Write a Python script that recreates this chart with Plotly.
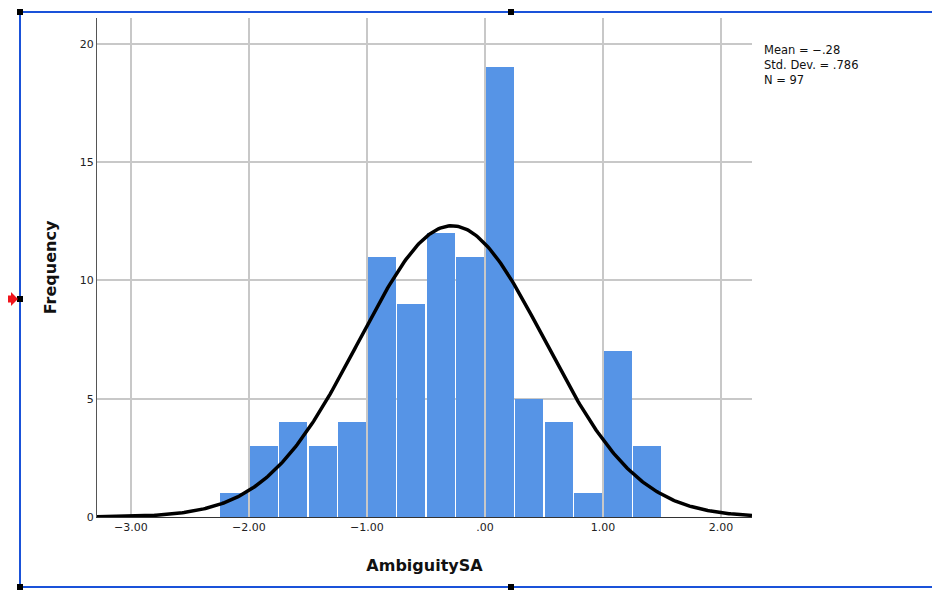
import plotly.graph_objects as go
import numpy as np

# ---- data ----
bin_starts = [-2.25, -2.0, -1.75, -1.5, -1.25, -1.0, -0.75, -0.5, -0.25, 0.0, 0.25, 0.5, 0.75, 1.0, 1.25]
counts = [1, 3, 4, 3, 4, 11, 9, 12, 11, 19, 5, 4, 1, 7, 3]
bin_width = 0.25
mean_val = -0.28
sd_val = 0.786
n_val = 97
x_ticks = [-3, -2, -1, 0, 1, 2]
x_tick_labels = ["\u22123.00", "\u22122.00", "\u22121.00", ".00", "1.00", "2.00"]
y_ticks = [0, 5, 10, 15, 20]

OFF = 8  # page body margin
W, H = 940 - OFF, 592 - OFF
L, R, T, B = 97 - OFF, 752 - OFF, 18 - OFF, 517 - OFF
xr = [-3.288, 2.263]
yr = [0, 21.09]

def px(x):
    return (x - OFF - L) / (R - L)

def py(y):
    return (B - (y - OFF)) / (B - T)

centers = [s + bin_width / 2 for s in bin_starts]
xc = np.linspace(xr[0], xr[1], 400)
yc = n_val * bin_width / (sd_val * np.sqrt(2 * np.pi)) * np.exp(-0.5 * ((xc - mean_val) / sd_val) ** 2)

fig = go.Figure()
fig.add_trace(go.Bar(x=centers, y=counts, width=bin_width - 0.016,
                     marker=dict(color="#5694e6", line=dict(width=0)),
                     hoverinfo="x+y"))
fig.add_trace(go.Scatter(x=xc, y=yc, mode="lines", line=dict(color="black", width=3.5)))

fig.update_layout(
    width=W, height=H,
    margin=dict(l=L, r=W - R, t=T, b=H - B),
    plot_bgcolor="white", paper_bgcolor="white",
    showlegend=False, bargap=0,
    font=dict(family="DejaVu Sans, Lato, sans-serif", color="#222", size=11),
)
fig.update_xaxes(range=xr, tickvals=x_ticks, ticktext=x_tick_labels,
                 showgrid=True, gridcolor="#c8c8c8", gridwidth=1.5,
                 showline=True, linecolor="#333", linewidth=1.2,
                 ticks="", zeroline=False, tickfont=dict(size=11),
                 title=dict(text="<b>AmbiguitySA</b>", font=dict(size=16, color="#111"), standoff=26))
fig.update_yaxes(range=yr, tickvals=y_ticks, showgrid=True, gridcolor="#c8c8c8", gridwidth=1.5,
                 showline=True, linecolor="#555", linewidth=1.2,
                 ticks="", zeroline=False, tickfont=dict(size=11),
                 title=dict(text="<b>Frequency</b>", font=dict(size=16, color="#111"), standoff=19))

fig.add_annotation(x=px(762), y=py(41), xref="paper", yref="paper", xanchor="left", yanchor="top",
                   text="Mean = \u2212.28<br>Std. Dev. = .786<br>N = 97", showarrow=False, align="left",
                   font=dict(size=11.5, color="#111"))

shapes = []
blue = "#1a52d9"
shapes.append(dict(type="line", xref="paper", yref="paper", x0=px(20), x1=px(940), y0=py(12), y1=py(12),
                   line=dict(color=blue, width=2)))
shapes.append(dict(type="line", xref="paper", yref="paper", x0=px(20), x1=px(940), y0=py(587), y1=py(587),
                   line=dict(color=blue, width=2)))
shapes.append(dict(type="line", xref="paper", yref="paper", x0=px(20), x1=px(20), y0=py(12), y1=py(587),
                   line=dict(color=blue, width=2)))
for (cx, cy) in [(20, 12), (511, 12), (20, 299), (20, 587), (511, 587)]:
    shapes.append(dict(type="rect", xref="paper", yref="paper", x0=px(cx - 3), x1=px(cx + 3),
                       y0=py(cy + 3), y1=py(cy - 3), fillcolor="black", line=dict(width=0)))
# red arrow
pts = [(5, 295.5), (11, 295.5), (11, 292), (18, 299), (11, 306), (11, 302.5), (5, 302.5)]
path = "M " + " L ".join(f"{px(a):.5f},{py(b):.5f}" for a, b in pts) + " Z"
shapes.append(dict(type="path", xref="paper", yref="paper", path=path, fillcolor="#f0141c", line=dict(width=0)))
fig.update_layout(shapes=shapes)

fig.write_html("out.html")
